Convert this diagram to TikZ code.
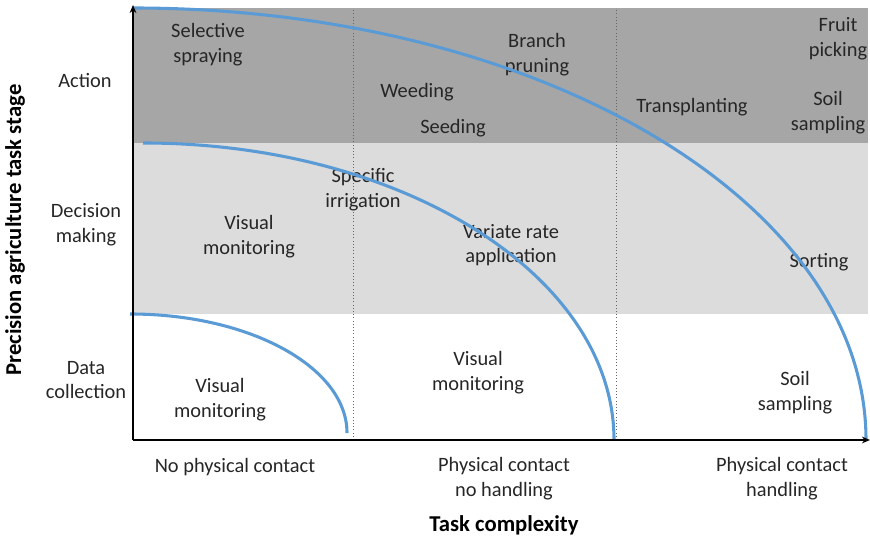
\documentclass[tikz,border=0pt]{standalone}
\usepackage{fontspec}
\setmainfont{Carlito}
\usetikzlibrary{arrows.meta}
\definecolor{bandDark}{HTML}{A6A6A6}
\definecolor{bandLight}{HTML}{DCDCDC}
\definecolor{curveBlue}{HTML}{5B9BD5}
\definecolor{txt}{HTML}{262626}
\begin{document}
\begin{tikzpicture}[x=0.75pt,y=0.75pt,
  lbl/.style={align=center,text=txt,inner sep=0pt,font=\fontsize{15.3}{18.5}\selectfont},
  axtitle/.style={align=center,text=black,inner sep=0pt,font=\fontsize{17}{20}\selectfont\bfseries},
  divider/.style={draw=black!60,line width=0.6pt,dash pattern=on 0.8pt off 1.6pt},
  frontier/.style={draw=curveBlue,line width=2.3pt},
  axisline/.style={draw=black,line width=1.3pt,-{Stealth[length=6pt,width=5pt]}}]
\useasboundingbox (0,0) rectangle (870,541);

% stage bands
\fill[bandDark]  (133,398) rectangle (868,533);
\fill[bandLight] (133,227) rectangle (868,398);

% complexity dividers
\coordinate (d1b) at (353,101); \coordinate (d1t) at (353,533);
\coordinate (d2b) at (616,101); \coordinate (d2t) at (616,533);
\draw[divider] (d1b) -- (d1t);
\draw[divider] (d2b) -- (d2t);

% task labels
\node[lbl] (spray)  at (208,496) {Selective\\spraying};
\node[lbl] (prune)  at (537,486) {Branch\\pruning};
\node[lbl] (weed)   at (417,449) {Weeding};
\node[lbl] (seed)   at (453,413) {Seeding};
\node[lbl] (trans)  at (692,434) {Transplanting};
\node[lbl] (fruit)  at (838,502) {Fruit\\picking};
\node[lbl] (soilA)  at (828,428) {Soil\\sampling};
\node[lbl] (irrig)  at (363,351) {Specific\\irrigation};
\node[lbl] (visD)   at (249,304) {Visual\\monitoring};
\node[lbl] (vrate)  at (511,296) {Variate rate\\application};
\node[lbl] (sort)   at (819,279) {Sorting};
\node[lbl] (visC)   at (478,168) {Visual\\monitoring};
\node[lbl] (visN)   at (220,141) {Visual\\monitoring};
\node[lbl] (soilC)  at (795,148) {Soil\\sampling};

% stage labels
\node[lbl] (action)   at (85,460) {Action};
\node[lbl] (decision) at (86,316) {Decision\\making};
\node[lbl] (data)     at (86,161) {Data\\collection};

% complexity labels
\node[lbl] (nocontact) at (235,74) {No physical contact};
\node[lbl] (nohandle)  at (504,62) {Physical contact\\no handling};
\node[lbl] (handle)    at (782,62) {Physical contact\\handling};

% axis titles
\node[axtitle] (xtitle) at (504,16) {Task complexity};
\node[axtitle,rotate=90] (ytitle) at (15,311) {Precision agriculture task stage};

% capability frontiers
\coordinate (f1) at (130,227);
\coordinate (f2) at (143,398);
\coordinate (f3) at (133,533);
\draw[frontier] (f1) arc[start angle=90,end angle=0,x radius=162.75pt,y radius=89.25pt];
\draw[frontier] (f2) arc[start angle=90,end angle=0,x radius=353.25pt,y radius=222.75pt];
\draw[frontier] (f3) arc[start angle=90,end angle=0,x radius=549.75pt,y radius=324pt];

% axes
\coordinate (origin) at (133,101);
\coordinate (ytop) at (133,536);
\coordinate (xend) at (870,101);
\draw[axisline] (origin) -- (ytop);
\draw[axisline] (origin) -- (xend);
\end{tikzpicture}
\end{document}
